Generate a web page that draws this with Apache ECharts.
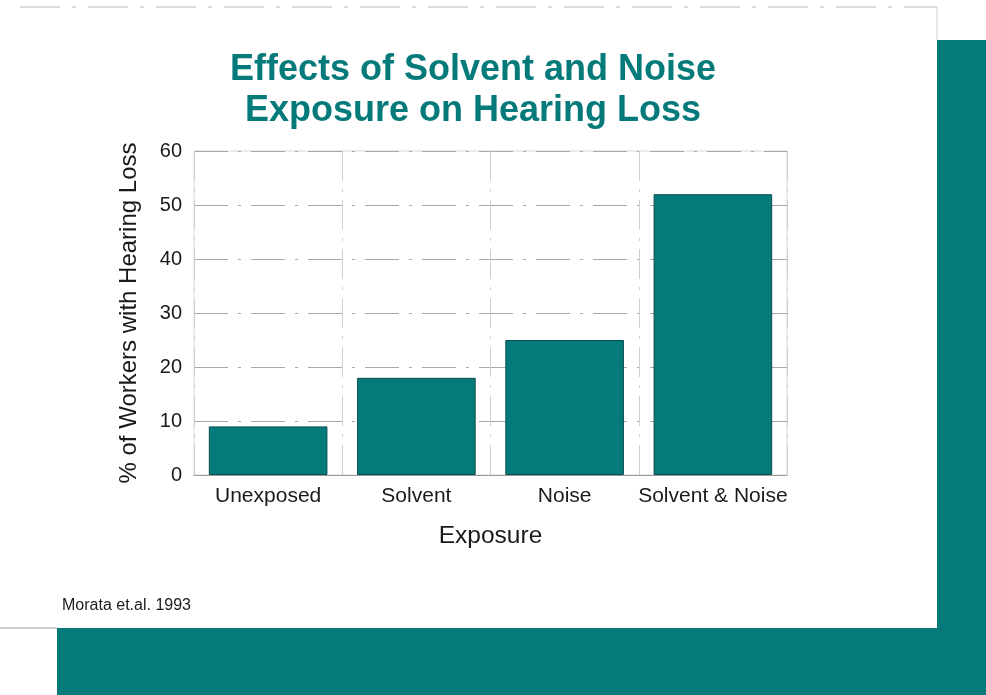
<!DOCTYPE html>
<html>
<head>
<meta charset="utf-8">
<script src="https://cdn.jsdelivr.net/npm/echarts@6/dist/echarts.min.js"></script>
<style>
  html, body { margin: 0; padding: 0; background: #ffffff; }
  #chart { width: 986px; height: 695px; }
</style>
</head>
<body>
<div id="chart"></div>
<script>
// Hearing loss prevalence by exposure group
const categories = ['Unexposed', 'Solvent', 'Noise', 'Solvent & Noise'];
const hearingLossPct = [9, 18, 25, 52];
const yTicks = [0, 10, 20, 30, 40, 50, 60];

const TEAL = '#057a7a';
const FONT = '"Liberation Sans", Arial, Helvetica, sans-serif';

const chart = echarts.init(document.getElementById('chart'), null, { renderer: 'canvas' });

chart.setOption({
  backgroundColor: '#ffffff',
  animation: false,
  title: {
    text: 'Effects of Solvent and Noise\nExposure on Hearing Loss',
    left: 468,
    top: 45,
    textAlign: 'center',
    textStyle: {
      fontFamily: FONT,
      fontSize: 36,
      fontWeight: 'bold',
      color: TEAL,
      lineHeight: 41
    }
  },
  graphic: [
    // slide decoration: teal panels to the right and below the white card
    { type: 'rect', shape: { x: 937, y: 40, width: 49, height: 655 }, style: { fill: TEAL }, z: -1 },
    { type: 'rect', shape: { x: 57, y: 628, width: 929, height: 67 }, style: { fill: TEAL }, z: -1 },
    { type: 'line', shape: { x1: 0, y1: 628, x2: 57, y2: 628 }, style: { stroke: '#9a9a9a', lineWidth: 1 } },
    { type: 'line', shape: { x1: 20, y1: 7, x2: 937, y2: 7 }, style: { stroke: '#b8b8b8', lineWidth: 1, lineDash: [40, 12, 4, 12] } },
    { type: 'line', shape: { x1: 937, y1: 7, x2: 937, y2: 40 }, style: { stroke: '#d0d0d0', lineWidth: 1 } },
    {
      type: 'text',
      left: 62,
      top: 598,
      style: {
        text: 'Morata et.al. 1993',
        fontFamily: '"Liberation Sans Narrow", "Arial Narrow", ' + FONT,
        fontSize: 16,
        fill: '#1a1a1a'
      }
    }
  ],
  grid: {
    left: 194,
    top: 151,
    right: 986 - 787,
    bottom: 695 - 475,
    show: true,
    borderColor: '#d8d8d8',
    borderWidth: 1,
    backgroundColor: 'transparent'
  },
  xAxis: {
    type: 'category',
    data: categories,
    name: 'Exposure',
    nameLocation: 'middle',
    nameGap: 49,
    nameTextStyle: { fontFamily: FONT, fontSize: 24.5, color: '#1a1a1a' },
    axisLine: { show: true, lineStyle: { color: '#9a9a9a', width: 1 } },
    axisTick: { show: false },
    axisLabel: { interval: 0, fontFamily: FONT, fontSize: 21, color: '#1a1a1a', margin: 11 },
    splitLine: { show: true, interval: 0, lineStyle: { color: '#d0d0d0', width: 1, type: [30, 8, 3, 8] } }
  },
  yAxis: {
    type: 'value',
    min: 0,
    max: 60,
    interval: 10,
    name: '% of Workers with Hearing Loss',
    nameLocation: 'middle',
    nameGap: 53,
    nameRotate: 90,
    nameTextStyle: { fontFamily: FONT, fontSize: 24, color: '#1a1a1a' },
    axisLine: { show: false },
    axisTick: { show: false },
    axisLabel: {
      fontFamily: FONT,
      fontSize: 20,
      color: '#1a1a1a',
      margin: 12,
      formatter: function (v) { return yTicks.indexOf(v) >= 0 ? String(v) : ''; }
    },
    splitLine: { show: true, lineStyle: { color: '#a8a8a8', width: 1, type: [34, 10, 3, 10] } }
  },
  series: [{
    type: 'bar',
    data: hearingLossPct,
    barCategoryGap: '20%',
    itemStyle: { color: TEAL, borderColor: '#0b4f4f', borderWidth: 1 }
  }]
});
</script>
</body>
</html>
